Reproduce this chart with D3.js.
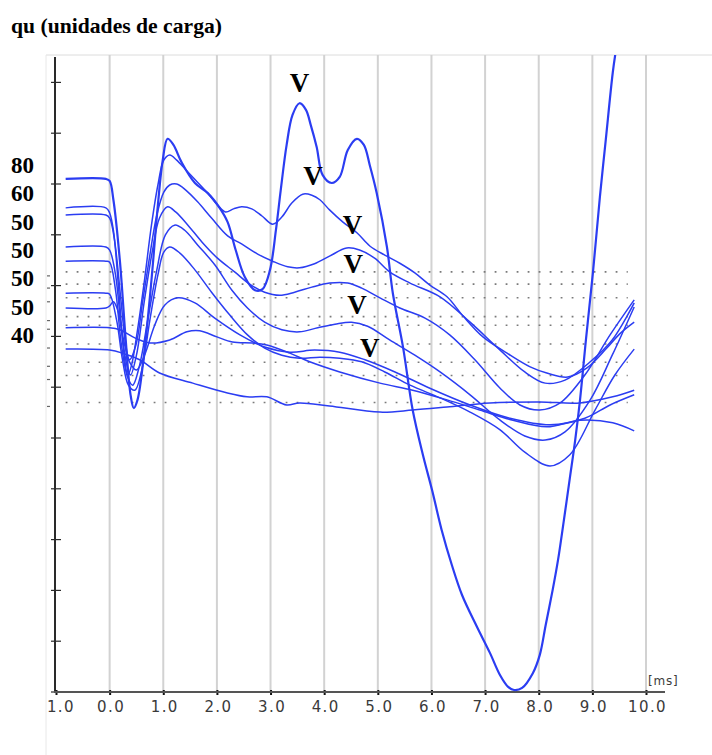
<!DOCTYPE html>
<html>
<head>
<meta charset="utf-8">
<script src="https://cdn.jsdelivr.net/npm/d3@7"></script>
<style>
  html, body { margin: 0; padding: 0; background: #ffffff; }
  svg { display: block; }
</style>
</head>
<body>
<svg id="chart" width="712" height="755"></svg>
<script>
// ---- axis ticks and labels ----
const xTicks = [-1, 0, 1, 2, 3, 4, 5, 6, 7, 8, 9, 10];
const xTickLabels = ["-1.0", "0.0", "1.0", "2.0", "3.0", "4.0", "5.0", "6.0", "7.0", "8.0", "9.0", "10.0"];
const yTicks = [0, 1, 2, 3, 4, 5, 6, 7, 8, 9, 10, 11, 12];
const levelLabels = ["80", "60", "50", "50", "50", "50", "40"];

// reference baselines (dotted), in trace units
const baselines = [8.27, 8.03, 7.76, 7.39, 7.22, 6.85, 6.49, 6.23, 5.70];

// ---- traces: [time (ms), amplitude] ----
const trace1 = [[-0.82,10.10],[-0.07,10.10],[0,10.06],[0.07,9.69],[0.19,8.50],[0.30,6.93],[0.39,5.85],[0.45,5.59],[0.52,5.75],[0.65,6.73],[0.78,8.11],[0.90,9.59],[0.99,10.47],[1.08,10.89],[1.19,10.77],[1.34,10.43],[1.59,10.02],[1.83,9.82],[2.05,9.53],[2.20,9.25],[2.35,8.70],[2.52,8.17],[2.71,7.91],[2.85,7.93],[2.99,8.31],[3.10,9.09],[3.19,9.88],[3.30,10.77],[3.41,11.36],[3.54,11.59],[3.66,11.46],[3.75,11.16],[3.86,10.73],[3.97,10.18],[4.14,10.02],[4.29,10.14],[4.44,10.67],[4.61,10.89],[4.74,10.77],[4.85,10.37],[4.98,9.82],[5.17,8.76],[5.28,7.85],[5.47,6.79],[5.65,5.55],[5.84,4.67],[6.01,3.98],[6.19,3.19],[6.38,2.50],[6.57,1.91],[6.85,1.28],[7.09,0.77],[7.28,0.33],[7.43,0.10],[7.54,0.04],[7.69,0.08],[7.89,0.37],[8.02,0.73],[8.13,1.32],[8.26,2.01],[8.36,2.60],[8.47,3.39],[8.58,4.21],[8.68,4.96],[8.77,5.75],[8.88,6.93],[9.01,8.25],[9.14,9.74],[9.25,10.87],[9.38,12.19],[9.44,12.64]];
const trace2 = [[-0.82,9.53],[-0.07,9.53],[0,9.43],[0.07,9.09],[0.17,7.91],[0.26,6.73],[0.34,6.24],[0.41,6.44],[0.52,7.13],[0.65,8.11],[0.78,9.19],[0.90,9.98],[1.01,10.47],[1.12,10.57],[1.25,10.47],[1.42,10.28],[1.60,10.08],[1.83,9.82],[2.01,9.59],[2.16,9.45],[2.31,9.51],[2.46,9.55],[2.65,9.51],[2.84,9.37],[3.04,9.21],[3.21,9.35],[3.40,9.63],[3.60,9.80],[3.77,9.78],[3.92,9.69],[4.10,9.49],[4.35,9.25],[4.61,9.04],[4.85,8.78],[5.13,8.60],[5.41,8.44],[5.69,8.25],[5.97,8.01],[6.29,7.78],[6.59,7.40],[6.96,6.99],[7.41,6.67],[7.84,6.40],[8.15,6.28],[8.54,6.20],[8.90,6.38],[9.27,6.77],[9.51,7.05],[9.78,7.28]];
const trace3 = [[-0.82,9.39],[-0.07,9.39],[0,9.33],[0.09,8.90],[0.21,7.72],[0.30,6.83],[0.37,6.54],[0.49,6.83],[0.62,7.72],[0.75,8.60],[0.88,9.39],[1.01,9.84],[1.12,9.98],[1.25,10.00],[1.42,9.88],[1.64,9.65],[1.90,9.33],[2.20,8.98],[2.46,8.82],[2.76,8.62],[3.04,8.48],[3.32,8.37],[3.54,8.35],[3.82,8.43],[4.10,8.58],[4.42,8.74],[4.66,8.70],[4.94,8.54],[5.22,8.27],[5.60,8.05],[6.16,7.78],[6.72,7.28],[7.28,6.73],[7.74,6.30],[8.12,6.08],[8.49,6.14],[8.96,6.50],[9.37,6.93],[9.78,7.66]];
const trace4 = [[-0.82,8.76],[-0.07,8.76],[0,8.70],[0.11,8.21],[0.22,7.13],[0.32,6.44],[0.39,6.24],[0.50,6.63],[0.65,7.72],[0.80,8.70],[0.93,9.33],[1.08,9.55],[1.23,9.45],[1.46,9.19],[1.72,8.86],[2.01,8.54],[2.33,8.27],[2.61,8.03],[2.89,7.87],[3.17,7.81],[3.45,7.87],[3.77,7.97],[4.10,8.05],[4.44,8.05],[4.70,7.95],[5.04,7.76],[5.41,7.56],[5.88,7.36],[6.34,7.03],[6.81,6.54],[7.28,5.98],[7.65,5.65],[8.02,5.55],[8.40,5.69],[8.86,6.24],[9.33,7.03],[9.78,7.72]];
const trace5 = [[-0.82,8.48],[-0.07,8.48],[0,8.46],[0.11,7.91],[0.22,6.83],[0.34,6.18],[0.43,6.04],[0.56,6.44],[0.71,7.32],[0.88,8.31],[1.04,9.00],[1.21,9.19],[1.40,9.09],[1.64,8.80],[1.96,8.41],[2.28,7.91],[2.57,7.56],[2.89,7.28],[3.21,7.13],[3.54,7.09],[3.88,7.17],[4.20,7.24],[4.51,7.28],[4.81,7.20],[5.22,6.93],[5.69,6.63],[6.16,6.30],[6.72,5.85],[7.28,5.35],[7.74,5.04],[8.12,4.96],[8.49,5.12],[8.96,5.75],[9.37,6.63],[9.78,7.58]];
const trace6 = [[-0.82,7.85],[-0.07,7.85],[0,7.83],[0.13,7.32],[0.24,6.54],[0.35,6.04],[0.47,5.94],[0.60,6.34],[0.75,7.32],[0.90,8.21],[1.01,8.66],[1.12,8.76],[1.31,8.64],[1.59,8.31],[1.90,7.87],[2.24,7.42],[2.57,7.03],[2.89,6.77],[3.21,6.63],[3.54,6.57],[3.92,6.59],[4.29,6.57],[4.70,6.50],[5.13,6.30],[5.60,6.04],[6.16,5.79],[6.72,5.51],[7.28,5.16],[7.74,4.72],[8.21,4.45],[8.58,4.67],[9.05,5.55],[9.42,6.24],[9.78,6.75]];
const trace7 = [[-0.82,7.56],[-0.07,7.56],[0,7.60],[0.07,7.68],[0.15,7.52],[0.26,6.93],[0.37,6.50],[0.50,6.34],[0.65,6.63],[0.84,7.22],[1.03,7.62],[1.27,7.76],[1.59,7.66],[1.96,7.36],[2.43,7.03],[2.89,6.79],[3.36,6.69],[3.82,6.73],[4.29,6.69],[4.76,6.54],[5.32,6.30],[5.97,5.98],[6.72,5.65],[7.46,5.39],[8.21,5.26],[8.86,5.39],[9.33,5.65],[9.78,5.85]];
const trace8 = [[-0.82,7.17],[0,7.17],[0.19,7.13],[0.47,6.97],[0.75,6.87],[1.12,6.93],[1.44,7.09],[1.68,7.11],[2.00,6.99],[2.29,6.89],[2.67,6.87],[2.93,6.83],[3.36,6.67],[3.73,6.50],[4.29,6.30],[5.04,6.08],[5.65,5.94],[6.29,5.75],[6.90,5.55],[7.52,5.35],[8.15,5.22],[8.77,5.35],[9.38,5.30],[9.78,5.14]];
const trace9 = [[-0.82,6.75],[0,6.73],[0.24,6.67],[0.56,6.54],[0.93,6.28],[1.55,6.08],[2.18,5.89],[2.56,5.81],[2.93,5.81],[3.30,5.65],[3.54,5.69],[4.10,5.63],[5.04,5.51],[5.65,5.55],[6.29,5.61],[7.09,5.69],[8.02,5.71],[8.77,5.69],[9.38,5.81],[9.78,5.94]];
const traces = [trace1, trace2, trace3, trace4, trace5, trace6, trace7, trace8, trace9];

// wave V markers: [time (ms), amplitude]
const waveVTimes = [3.54, 3.79, 4.53, 4.54, 4.61, 4.85];
const waveVLevels = [11.81, 9.98, 9.02, 8.25, 7.44, 6.59];

// ---- layout ----
const svg = d3.select("#chart");
const frameLeft = 46, frameTop = 55;
const x = d3.scaleLinear().domain([-1, 10]).range([56, 646]);
const y = d3.scaleLinear().domain([0, 12]).range([692, 82.4]);
const baseY = y(0);

// clip region: everything right of the frame's left edge and below its top edge
const defs = svg.append("defs");
defs.append("clipPath").attr("id", "plotClip")
  .append("rect").attr("x", frameLeft).attr("y", frameTop)
  .attr("width", 712 - frameLeft).attr("height", 755 - frameTop);

// title
svg.append("text")
  .attr("x", 11).attr("y", 33)
  .attr("font-family", "'Liberation Serif', 'Times New Roman', serif")
  .attr("font-weight", "bold")
  .attr("font-size", 22)
  .attr("textLength", 211)
  .attr("lengthAdjust", "spacingAndGlyphs")
  .attr("fill", "#000")
  .text("qu (unidades de carga)");

// frame lines
svg.append("line").attr("x1", frameLeft).attr("x2", 712).attr("y1", frameTop).attr("y2", frameTop)
  .attr("stroke", "#dcdcdc").attr("stroke-width", 1);
svg.append("line").attr("x1", frameLeft).attr("x2", frameLeft).attr("y1", frameTop).attr("y2", 755)
  .attr("stroke", "#e8e8e8").attr("stroke-width", 1);

// vertical grid lines
svg.append("g").selectAll("line")
  .data(xTicks.filter(d => d >= 0))
  .join("line")
  .attr("x1", d => x(d)).attr("x2", d => x(d))
  .attr("y1", frameTop).attr("y2", baseY)
  .attr("stroke", "#d2d2d2").attr("stroke-width", 2);

// dotted baselines
const dotFrom = -0.82, dotTo = 9.66;
svg.append("g").selectAll("line")
  .data(baselines)
  .join("line")
  .attr("x1", x(dotFrom)).attr("x2", x(dotTo))
  .attr("y1", d => y(d)).attr("y2", d => y(d))
  .attr("stroke", "#7a7a7a").attr("stroke-width", 1.6)
  .attr("stroke-dasharray", "1.8,9.2");

// small level marks left of the axis
svg.append("g").selectAll("line")
  .data(baselines)
  .join("line")
  .attr("x1", frameLeft + 1).attr("x2", frameLeft + 4)
  .attr("y1", d => y(d) + 4).attr("y2", d => y(d) + 4)
  .attr("stroke", "#666").attr("stroke-width", 1.2);

// left axis
svg.append("line").attr("x1", x(-1) - 1).attr("x2", x(-1) - 1)
  .attr("y1", frameTop + 2).attr("y2", baseY)
  .attr("stroke", "#2a2a2a").attr("stroke-width", 2);
svg.append("g").selectAll("line")
  .data(yTicks)
  .join("line")
  .attr("x1", x(-1) - 5).attr("x2", x(-1) + 5)
  .attr("y1", d => y(d)).attr("y2", d => y(d))
  .attr("stroke", "#2a2a2a").attr("stroke-width", 1.2);

// bottom axis (outer group clips the first label at the frame edge)
const xAxisG = svg.append("g")
  .attr("clip-path", "url(#plotClip)")
  .append("g")
  .attr("transform", `translate(0,${baseY})`)
  .call(d3.axisBottom(x).tickValues(xTicks)
    .tickFormat((d, i) => xTickLabels[i])
    .tickSize(3).tickPadding(6));
xAxisG.select(".domain").remove();
xAxisG.selectAll(".tick line").attr("stroke", "#111").attr("stroke-width", 2)
  .attr("y1", -2).attr("y2", 3);
xAxisG.selectAll(".tick text")
  .attr("font-family", "'DejaVu Sans', Verdana, sans-serif")
  .attr("font-size", 15)
  .attr("letter-spacing", "1.4px")
  .attr("dx", "1px")
  .attr("fill", "#3a3a3a");
svg.append("line").attr("x1", x(-1) - 2).attr("x2", 665)
  .attr("y1", baseY).attr("y2", baseY)
  .attr("stroke", "#555").attr("stroke-width", 2);

svg.append("text")
  .attr("x", 648).attr("y", 685)
  .attr("font-family", "'DejaVu Sans', Verdana, sans-serif")
  .attr("font-size", 12)
  .attr("letter-spacing", "0.8px")
  .attr("fill", "#3c3c3c")
  .text("[ms]");

// level labels on the left
svg.append("g").selectAll("text")
  .data(levelLabels)
  .join("text")
  .attr("x", 11)
  .attr("y", (d, i) => 173 + i * 28.3)
  .attr("font-family", "'Liberation Serif', 'Times New Roman', serif")
  .attr("font-weight", "bold")
  .attr("font-size", 23)
  .attr("fill", "#000")
  .text(d => d);

// traces
const line = d3.line()
  .x(d => x(d[0]))
  .y(d => y(d[1]))
  .curve(d3.curveCatmullRom.alpha(0.5));

svg.append("g").attr("clip-path", "url(#plotClip)")
  .selectAll("path")
  .data(traces)
  .join("path")
  .attr("d", line)
  .attr("fill", "none")
  .attr("stroke", "#2b3df2")
  .attr("stroke-width", (d, i) => i === 0 ? 2.2 : 1.5)
  .attr("stroke-linejoin", "round");

// wave V labels
svg.append("g").selectAll("text")
  .data(waveVTimes)
  .join("text")
  .attr("x", d => x(d))
  .attr("y", (d, i) => y(waveVLevels[i]))
  .attr("text-anchor", "middle")
  .attr("font-family", "'Liberation Serif', 'Times New Roman', serif")
  .attr("font-weight", "bold")
  .attr("font-size", 27)
  .attr("fill", "#000")
  .text("V");
</script>
</body>
</html>
